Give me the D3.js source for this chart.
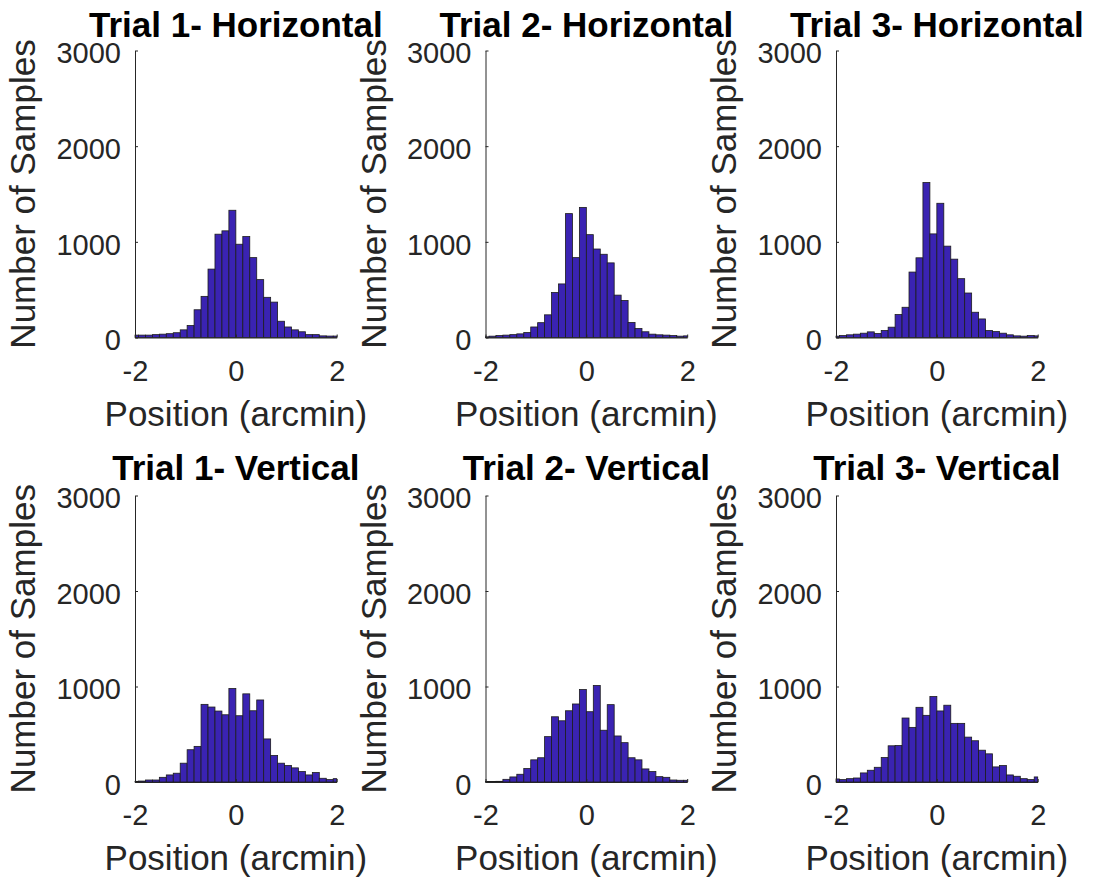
<!DOCTYPE html>
<html>
<head>
<meta charset="utf-8">
<script src="https://cdn.jsdelivr.net/npm/d3@7"></script>
<style>
  html, body { margin: 0; padding: 0; background: #ffffff; }
  svg { display: block; }
</style>
</head>
<body>
<svg id="chart" width="1095" height="882"></svg>
<script>
// ---- Data ----
const binEdges = [-2.069, -1.931, -1.793, -1.655, -1.517, -1.379, -1.241, -1.103, -0.966, -0.828,
  -0.690, -0.552, -0.414, -0.276, -0.138, 0, 0.138, 0.276, 0.414, 0.552,
  0.690, 0.828, 0.966, 1.103, 1.241, 1.379, 1.517, 1.655, 1.793, 1.931, 2.069];

const trial1Horizontal = [25, 25, 25, 30, 35, 40, 50, 80, 125, 290, 430, 715, 1080, 1115, 1330,
  975, 1055, 835, 605, 420, 370, 170, 110, 80, 60, 30, 30, 17, 15, 15];
const trial2Horizontal = [7, 14, 20, 25, 30, 38, 52, 110, 155, 237, 470, 560, 1295, 835, 1360,
  1075, 925, 870, 780, 443, 387, 157, 94, 60, 35, 28, 25, 20, 14, 17];
const trial3Horizontal = [14, 20, 28, 35, 45, 59, 42, 73, 108, 240, 316, 684, 833, 1620, 1083,
  1403, 955, 819, 615, 465, 264, 194, 73, 62, 45, 28, 17, 14, 20, 17];
const trial1Vertical = [7, 10, 21, 21, 49, 74, 92, 197, 338, 373, 813, 785, 743, 704, 979,
  694, 923, 746, 859, 451, 278, 197, 173, 148, 109, 74, 99, 39, 25, 35];
const trial2Vertical = [5, 5, 7, 28, 53, 81, 141, 232, 254, 475, 683, 641, 746, 817, 968,
  736, 1011, 542, 810, 482, 412, 254, 232, 137, 109, 56, 49, 21, 18, 18];
const trial3Vertical = [32, 25, 35, 42, 95, 123, 154, 256, 379, 382, 670, 572, 782, 698, 895,
  744, 804, 614, 614, 470, 432, 333, 295, 158, 172, 74, 60, 35, 25, 53];

const panelTitles = ["Trial 1- Horizontal", "Trial 2- Horizontal", "Trial 3- Horizontal",
  "Trial 1- Vertical", "Trial 2- Vertical", "Trial 3- Vertical"];
const panelSeries = [trial1Horizontal, trial2Horizontal, trial3Horizontal,
  trial1Vertical, trial2Vertical, trial3Vertical];
const xTicks = [-2, 0, 2];
const yTicks = [0, 1000, 2000, 3000];
const xLabel = "Position (arcmin)";
const yLabel = "Number of Samples";

// ---- Layout ----
const colLeft = [135, 485.5, 836];
const axW = 201.7;
const rowBottom = [337.5, 782];
const rowTop = [50.5, 495.5];
const titleBase = [36.5, 479.5];

const font = "'Liberation Sans', Arial, Helvetica, sans-serif";
const axisColor = "#262626";
const barFill = "#3a23b2";
const barStroke = "#1c1c1c";
const tickFont = 29;

const svg = d3.select("#chart");

panelSeries.forEach((counts, i) => {
  const col = i % 3, row = Math.floor(i / 3);
  const x0 = colLeft[col];
  const x = d3.scaleLinear().domain([-2, 2]).range([x0, x0 + axW]);
  const y = d3.scaleLinear().domain([0, 3000]).range([rowBottom[row], rowTop[row]]);

  const g = svg.append("g");

  // bars
  const bins = counts.map((c, k) => ({ lo: Math.max(-2, binEdges[k]), hi: Math.min(2, binEdges[k + 1]), c }));
  g.append("g").selectAll("rect").data(bins).join("rect")
    .attr("x", d => x(d.lo))
    .attr("width", d => x(d.hi) - x(d.lo))
    .attr("y", d => y(d.c))
    .attr("height", d => y(0) - y(d.c))
    .attr("fill", barFill)
    .attr("stroke", barStroke)
    .attr("stroke-width", 0.8);

  // y axis
  const ya = g.append("g")
    .attr("transform", `translate(${x0},0)`)
    .call(d3.axisLeft(y).tickValues(yTicks).tickFormat(d => String(d))
      .tickSizeInner(-3).tickSizeOuter(0).tickPadding(14));
  ya.select(".domain").attr("stroke", axisColor).attr("stroke-width", 1);
  ya.selectAll(".tick line").attr("stroke", axisColor);
  ya.selectAll(".tick text").attr("fill", axisColor)
    .style("font-family", font).style("font-size", tickFont + "px").attr("dy", "0.43em");

  // x axis
  const xa = g.append("g")
    .attr("transform", `translate(0,${rowBottom[row]})`)
    .call(d3.axisBottom(x).tickValues(xTicks).tickFormat(d => String(d))
      .tickSizeInner(-3).tickSizeOuter(0).tickPadding(22.9));
  xa.select(".domain").attr("stroke", axisColor).attr("stroke-width", 1);
  xa.selectAll(".tick line").attr("stroke", axisColor);
  xa.selectAll(".tick text").attr("fill", axisColor)
    .style("font-family", font).style("font-size", tickFont + "px");

  // x label
  g.append("text")
    .attr("x", x0 + axW / 2)
    .attr("y", rowBottom[row] + 88)
    .attr("text-anchor", "middle")
    .attr("fill", axisColor)
    .style("font-family", font).style("font-size", "35px")
    .text(xLabel);

  // y label
  const yc = (rowBottom[row] + rowTop[row]) / 2;
  g.append("text")
    .attr("transform", `translate(${x0 - 100},${yc}) rotate(-90)`)
    .attr("text-anchor", "middle")
    .attr("fill", axisColor)
    .style("font-family", font).style("font-size", "35px")
    .text(yLabel);
});

// titles drawn last so they sit above neighbouring labels
panelTitles.forEach((t, i) => {
  const col = i % 3, row = Math.floor(i / 3);
  svg.append("text")
    .attr("x", colLeft[col] + axW / 2)
    .attr("y", titleBase[row])
    .attr("text-anchor", "middle")
    .attr("fill", "#000000")
    .style("font-family", font).style("font-size", "35px").style("font-weight", "bold")
    .text(t);
});
</script>
</body>
</html>
